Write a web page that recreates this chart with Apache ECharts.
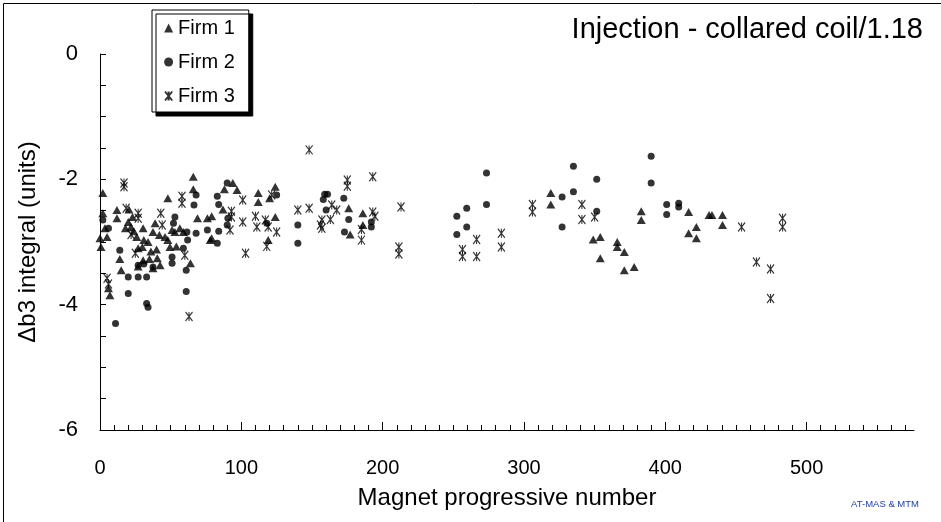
<!DOCTYPE html>
<html>
<head>
<meta charset="utf-8">
<script src="https://cdn.jsdelivr.net/npm/echarts@6/dist/echarts.min.js"></script>
<style>html,body{margin:0;padding:0;background:#fff}#c{width:941px;height:522px}</style>
</head>
<body>
<div id="c"></div>
<script>
// ---- data (magnet progressive number, Δb3 integral in units) ----
const seriesNames = ['Firm 1', 'Firm 2', 'Firm 3'];
const firm1 = [
  [0,-2.94],[0.7,-3.08],[2,-2.22],[2,-2.54],[3.5,-2.78],[5,-2.92],[6,-3.74],[7,-3.85],
  [12,-2.49],[12,-2.62],[14,-3.27],[15,-3.45],[18,-2.78],[20,-2.68],[20.5,-2.48],[22,-2.76],
  [23,-2.60],[24,-2.83],[26,-2.92],[27,-3.10],[27,-3.39],[30,-3.08],[30.5,-2.78],[30.5,-3.29],
  [31,-2.97],[34,-3.00],[35,-3.27],[36,-3.15],[37.5,-2.84],[37.5,-3.42],[39,-2.70],[40,-3.12],
  [40.5,-3.26],[42,-2.89],[42.5,-3.37],[46,-2.92],[48,-2.30],[48,-2.97],[49.5,-3.08],[51,-2.81],
  [53,-2.84],[54,-3.07],[56.5,-2.78],[59,-2.84],[64,-3.34],[66,-1.96],[66,-2.16],[69,-2.62],
  [76,-2.62],[78,-2.97],[79,-2.59],[79,-2.94],[87,-2.48],[88,-2.16],[94,-2.06],[97,-2.17],
  [112,-2.22],[112,-2.36],[120,-2.30],[124,-2.12],[124,-2.60],[119,-2.97],
  [176,-2.46],[186,-2.54],[186,-2.73],[177,-2.88],
  [319,-2.22],[319,-2.40],[383,-2.51],[383,-2.65],[349,-2.96],[354,-2.92],[366,-3.00],[366,-3.08],
  [371,-3.16],[354,-3.26],[371,-3.45],[378,-3.40],[416.5,-2.52],[416.5,-2.86],[422,-2.76],[422,-2.94],
  [431,-2.57],[433,-2.57],[440.5,-2.57],[440.5,-2.73]
];
const firm2 = [
  [2,-2.65],[6,-2.78],[14,-3.13],[20,-3.56],[27,-3.56],[33,-3.56],[20,-3.82],[33,-3.98],
  [34,-4.04],[11,-4.30],[27,-3.37],[31,-3.35],[37.5,-3.40],[53,-2.60],[52,-2.70],[51,-3.24],
  [51,-3.34],[59,-3.10],[61,-3.79],[61,-3.45],[61.5,-2.84],[62,-2.97],[66.5,-2.41],[68,-2.25],
  [68,-2.86],[76,-2.81],[84,-2.83],[83,-3.02],[83,-2.27],[84,-2.40],[90,-2.06],[90,-2.73],
  [90.5,-2.62],[125,-2.25],[118,-2.70],[140,-2.73],[140,-3.02],[159,-2.24],[161,-2.24],[158,-2.32],
  [172.5,-2.30],[160,-2.49],[176,-2.64],[173,-2.84],[192,-2.68],[192,-2.76],
  [252.5,-2.59],[252.5,-2.88],[259.5,-2.46],[259.5,-2.76],[273.5,-1.90],[273.5,-2.40],
  [327,-2.28],[327,-2.76],[335,-1.79],[335,-2.20],[351.5,-2.00],[351.5,-2.51],
  [390,-1.63],[390,-2.06],[401,-2.40],[401,-2.56],[409.5,-2.38],[409.5,-2.44]
];
const firm3 = [
  [17,-2.06],[17,-2.12],[18.5,-2.46],[27,-2.54],[27,-2.62],[43,-2.54],[44,-2.73],[58,-2.27],
  [58,-2.38],[5,-3.58],[6,-3.67],[22,-2.88],[25,-3.18],[60,-3.21],[63,-4.19],
  [101,-2.33],[93,-2.51],[93,-2.60],[101,-2.68],[92,-2.81],[110,-2.59],[111,-2.76],[117,-2.65],
  [119,-2.76],[125,-2.84],[118,-3.07],[103,-3.18],[121.5,-2.25],
  [148,-1.53],[140,-2.49],[148,-2.46],[156,-2.73],[175,-2.01],[175,-2.11],[193,-1.96],[157,-2.65],
  [157,-2.78],[163,-2.64],[164,-2.41],[167.5,-2.49],[185,-2.80],[185,-2.97],[193,-2.52],[194.5,-2.59],
  [213,-2.44],[211.5,-3.08],[211.5,-3.19],
  [266.5,-2.96],[256.5,-3.12],[256.5,-3.23],[266.5,-3.23],[284,-2.86],[284,-3.08],[306,-2.40],[306,-2.52],
  [341,-2.40],[341,-2.64],[350,-2.60],[454,-2.76],[483,-2.62],[483,-2.76],[464.5,-3.32],[474.5,-3.43],[474.5,-3.90]
];
const xTickValues = [0, 100, 200, 300, 400, 500];
const yTickValues = [0, -2, -4, -6];
const titleText = 'Injection - collared coil/1.18';
const xName = 'Magnet progressive number';
const yName = 'Δb3 integral (units)';
const creditText = 'AT-MAS & MTM';

// ---- chart ----
const FONT = "'Liberation Sans', Arial, sans-serif";
const X_MAX = 576;
const minorTicks = [];
for (let v = 10; v < X_MAX; v += 10) if (v % 100 !== 0) minorTicks.push(v);
const crossPath = 'path://M0,0L8,10M8,0L0,10M4,0L4,10';
const gridBox = {left: 100, top: 54, width: 814, height: 376};

const chart = echarts.init(document.getElementById('c'), null, {renderer: 'canvas'});
chart.setOption({
  backgroundColor: '#fff',
  animation: false,
  title: {
    text: titleText, right: 13, top: 10,
    textStyle: {fontFamily: FONT, fontSize: 29, fontWeight: 'normal', color: '#000'}
  },
  legend: {
    orient: 'vertical', left: 152, top: 10,
    data: seriesNames,
    backgroundColor: '#fff', borderColor: '#000', borderWidth: 1,
    shadowColor: '#000', shadowBlur: 0, shadowOffsetX: 4, shadowOffsetY: 4,
    padding: [8, 14, 6, 12], itemWidth: 9, itemHeight: 9, itemGap: 14,
    textStyle: {fontFamily: FONT, fontSize: 20, color: '#000'}
  },
  grid: [Object.assign({}, gridBox), Object.assign({}, gridBox)],
  xAxis: [{
    gridIndex: 0, type: 'value', min: 0, max: X_MAX,
    name: xName, nameLocation: 'middle', nameGap: 56,
    nameTextStyle: {fontFamily: FONT, fontSize: 24, color: '#000'},
    axisLine: {show: true, onZero: false, lineStyle: {color: '#000', width: 1}},
    axisTick: {show: true, inside: true, length: 8, customValues: xTickValues, lineStyle: {color: '#000'}},
    axisLabel: {customValues: xTickValues, margin: 28, fontFamily: FONT, fontSize: 20, color: '#000'},
    splitLine: {show: false}
  }, {
    gridIndex: 1, type: 'value', min: 0, max: X_MAX, position: 'bottom',
    axisLine: {show: false, onZero: false}, axisLabel: {show: false}, splitLine: {show: false},
    axisTick: {show: true, inside: true, length: 5, customValues: minorTicks, lineStyle: {color: '#000'}}
  }],
  yAxis: [{
    gridIndex: 0, type: 'value', min: -6, max: 0, interval: 2,
    name: yName, nameLocation: 'middle', nameGap: 60,
    nameTextStyle: {fontFamily: FONT, fontSize: 24, color: '#000'},
    axisLine: {show: true, onZero: false, lineStyle: {color: '#000', width: 1}},
    axisTick: {show: true, inside: true, length: 6, lineStyle: {color: '#000'}},
    minorTick: {show: true, splitNumber: 4, length: 6, lineStyle: {color: '#000'}},
    axisLabel: {margin: 22, fontFamily: FONT, fontSize: 22, color: '#000'},
    splitLine: {show: false}, minorSplitLine: {show: false}
  }, {
    gridIndex: 1, type: 'value', min: -6, max: 0, show: false,
    axisLine: {onZero: false}
  }],
  graphic: [
    {type: 'rect', left: 1, top: 1, shape: {width: 938, height: 519}, style: {fill: 'none', stroke: '#000', lineWidth: 1}, silent: true, z: -1},
    {type: 'text', right: 22, top: 499, style: {text: creditText, fontFamily: FONT, fontSize: 9.5, fill: '#1f3fa0'}}
  ],
  series: [
    {name: seriesNames[0], type: 'scatter', data: firm1, symbol: 'triangle', symbolSize: [9, 8],
     itemStyle: {color: '#000'}},
    {name: seriesNames[1], type: 'scatter', data: firm2, symbol: 'circle', symbolSize: 7,
     itemStyle: {color: '#000'}},
    {name: seriesNames[2], type: 'scatter', data: firm3, symbol: crossPath, symbolSize: [7, 9],
     itemStyle: {color: 'rgba(0,0,0,0)', borderColor: '#000', borderWidth: 1.2}}
  ]
});
</script>
</body>
</html>
